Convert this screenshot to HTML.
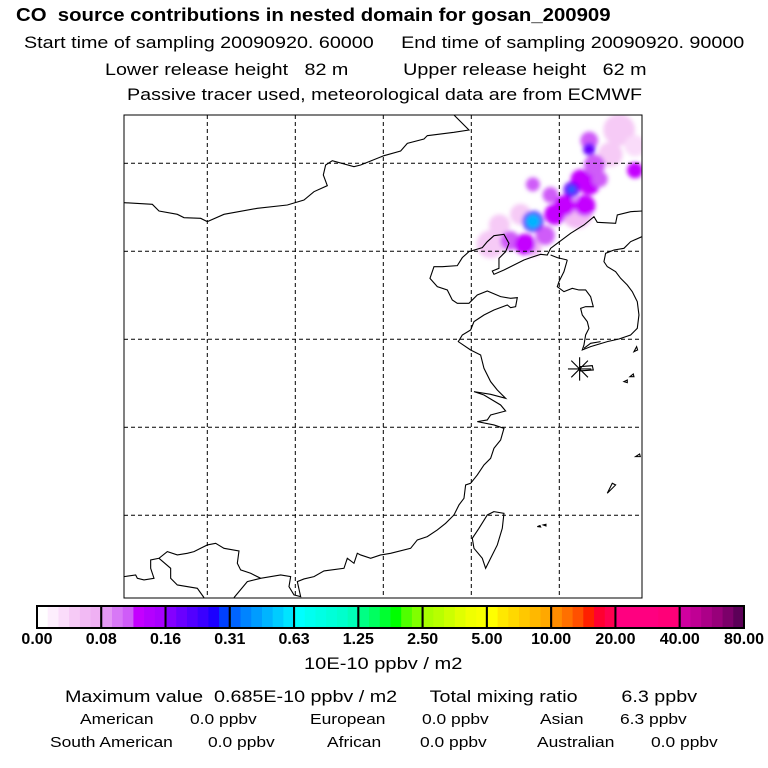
<!DOCTYPE html>
<html><head><meta charset="utf-8"><style>
body{margin:0;background:#fff;}
#root{position:relative;width:768px;height:768px;overflow:hidden;font-family:"Liberation Sans",sans-serif;color:#000;}
.t{position:absolute;white-space:nowrap;transform-origin:0 0;transform:scaleX(1.16);}
</style></head><body>
<div id="root">
<div class="t" style="left:16px;top:5px;font-size:18px;font-weight:bold;transform:scaleX(1.13);">CO&nbsp; source contributions in nested domain for gosan_200909</div>
<div class="t" style="left:24px;top:33px;font-size:17px;">Start time of sampling 20090920. 60000&nbsp;&nbsp;&nbsp;&nbsp; End time of sampling 20090920. 90000</div>
<div class="t" style="left:105px;top:60px;font-size:17px;">Lower release height&nbsp;&nbsp; 82 m&nbsp;&nbsp;&nbsp;&nbsp;&nbsp;&nbsp;&nbsp;&nbsp;&nbsp; Upper release height&nbsp;&nbsp; 62 m</div>
<div class="t" style="left:127px;top:85px;font-size:17px;">Passive tracer used, meteorological data are from ECMWF</div>
<svg id="svg" width="768" height="768" style="position:absolute;left:0;top:0">
<defs><filter id="bl" x="-50%" y="-50%" width="200%" height="200%"><feGaussianBlur stdDeviation="2"/></filter>
<clipPath id="mc" clipPathUnits="userSpaceOnUse"><rect x="124" y="115" width="518" height="483"/></clipPath></defs>
<g clip-path="url(#mc)"><g id="plume" filter="url(#bl)"></g></g>
<g id="grid"></g>
<g clip-path="url(#mc)">
<g transform="translate(124,115) scale(0.3333)" fill="none" stroke="#000" stroke-width="3.3">
<path d="M0,263 L85,268 L105,288 L160,298 L180,308 L230,310 L250,320 L300,298 L400,280 L490,270 L540,255 L570,230 L610,212 L598,180 L605,150 L625,137 L690,155 L710,150 L780,122 L830,108 L850,85 L900,72 L910,62 L990,52 L1035,45 L990,0"/>
<path d="M1554,288 L1520,290 L1480,300 L1475,325 L1420,322 L1410,305 L1380,330 L1340,355 L1300,385 L1280,400 L1270,420 L1250,418 L1220,428 L1200,435 L1170,450 L1140,465 L1110,478 L1105,468 L1125,460 L1125,430 L1145,410 L1155,385 L1140,358 L1110,362 L1090,380 L1075,398 L1035,410 L1015,428 L1000,452 L955,455 L930,455 L918,490 L940,515 L970,525 L985,555 L1000,565 L1035,565 L1060,540 L1090,528 L1130,545 L1160,550 L1180,548 L1175,575 L1160,578 L1150,570 L1110,585 L1080,600 L1050,620 L1040,645 L1015,660 L1003,680 L1040,705 L1070,720 L1080,760 L1100,800 L1120,825 L1145,850 L1100,838 L1050,830 L1080,840 L1130,870 L1145,888 L1100,900 L1090,915 L1060,920 L1110,930 L1140,940 L1130,975 L1110,1000 L1100,1030 L1080,1050 L1060,1080 L1040,1105 L1025,1110 L1020,1150 L1005,1170 L990,1200 L965,1225 L940,1245 L910,1265 L880,1275 L860,1300 L800,1315 L770,1320 L740,1330 L710,1320 L700,1315 L690,1345 L670,1330 L660,1360 L600,1368 L570,1385 L540,1392 L520,1400 L530,1445 L510,1440 L495,1415 L500,1385 L470,1380 L410,1390 L380,1375 L350,1365 L340,1345 L345,1308 L300,1300 L275,1285 L250,1290 L230,1300 L210,1310 L190,1315 L160,1320 L130,1310 L105,1330 L80,1335 L80,1360 L90,1390 L60,1395 L40,1390 L35,1380 L0,1385"/>
<path d="M105,1330 L140,1360 L140,1390 L160,1410 L220,1420 L240,1448 M330,1448 L370,1400 L410,1390"/>
<path d="M1330,435 L1320,470 L1305,500 L1300,515 L1320,530 L1345,520 L1365,525 L1385,525 L1400,545 L1408,575 L1385,575 L1370,580 L1375,600 L1390,620 L1395,640 L1385,660 L1380,690 L1375,705 L1400,695 L1450,680 L1485,672 L1520,660 L1540,640 L1545,600 L1540,560 L1525,530 L1510,510 L1490,490 L1475,470 L1450,455 L1440,440 L1445,415 L1470,405 L1500,400 L1520,380 L1554,365 M1330,435 L1300,428 L1280,420"/>
<path d="M1110,1190 L1140,1195 L1135,1240 L1120,1290 L1100,1330 L1085,1360 L1075,1330 L1050,1300 L1045,1270 L1065,1240 L1090,1200 Z"/>
<path d="M1530,710 l8,-15 l3,10 z M1500,800 l10,-5 l0,8 z M1518,785 l10,-8 l2,8 z M1535,1025 l12,-8 l2,8 z M1450,1135 l15,-30 l10,5 z M1240,1235 l8,-3 l2,4 z M1258,1230 l8,-2 l0,5 z M1380,700 l20,-15 l30,-5"/>
<path d="M1332,762 L1402,762 M1367,727 L1367,797 M1342,737 L1392,787 M1342,787 L1392,737 M1367,755 L1405,752 L1408,765 L1367,768"/>
</g></g>
<rect x="124" y="115" width="518" height="483" fill="none" stroke="#000" stroke-width="1"/>
<g id="cbar"></g>
</svg>
<div class="t" style="left:304px;top:654px;font-size:17px;transform:scaleX(1.18);">10E-10 ppbv / m2</div>
<div class="t" style="left:65px;top:687px;font-size:17px;">Maximum value&nbsp; 0.685E-10 ppbv / m2&nbsp;&nbsp;&nbsp;&nbsp;&nbsp; Total mixing ratio&nbsp;&nbsp;&nbsp;&nbsp;&nbsp;&nbsp;&nbsp; 6.3 ppbv</div>
<div class="t" style="left:80px;top:711px;font-size:15px;">American</div>
<div class="t" style="left:190px;top:711px;font-size:15px;">0.0 ppbv</div>
<div class="t" style="left:310px;top:711px;font-size:15px;">European</div>
<div class="t" style="left:422px;top:711px;font-size:15px;">0.0 ppbv</div>
<div class="t" style="left:540px;top:711px;font-size:15px;">Asian</div>
<div class="t" style="left:620px;top:711px;font-size:15px;">6.3 ppbv</div>
<div class="t" style="left:50px;top:734px;font-size:15px;">South American</div>
<div class="t" style="left:208px;top:734px;font-size:15px;">0.0 ppbv</div>
<div class="t" style="left:327px;top:734px;font-size:15px;">African</div>
<div class="t" style="left:420px;top:734px;font-size:15px;">0.0 ppbv</div>
<div class="t" style="left:537px;top:734px;font-size:15px;">Australian</div>
<div class="t" style="left:651px;top:734px;font-size:15px;">0.0 ppbv</div>
</div>
<script>
const levelLabels=["0.00","0.08","0.16","0.31","0.63","1.25","2.50","5.00","10.00","20.00","40.00","80.00"];
const levelValues=[0,0.08,0.16,0.31,0.63,1.25,2.5,5,10,20,40,80];
const segColors=[
["#ffffff","#fdeefd","#fadcfa","#f6caf6","#f2baf4","#efb0f3"],
["#e498f4","#d878f6","#cf5cf8","#c400ff","#b400ff","#a800ff"],
["#8400ff","#6a00ff","#5200ff","#3a00ff","#1c00ff","#0040ff"],
["#0064ff","#0084ff","#009cff","#00b4ff","#00ccff","#00e4ff"],
["#00ffff","#00fff0","#00ffe4","#00ffd8","#00ffcc","#00ffb8"],
["#00ff84","#00ff60","#00ff30","#00ff00","#50ff00","#80ff00"],
["#a8ff00","#b8ff00","#ccff00","#e0ff00","#f0ff00","#f8ff00"],
["#ffff00","#ffe800","#ffd800","#ffc800","#ffb800","#ffa800"],
["#ff8c00","#ff7000","#ff5000","#ff2000","#ff0030","#ff0050"],
["#ff0080","#ff0080","#ff0080","#ff0080","#ff0078","#ff0078"],
["#d000a0","#c00094","#ac0088","#98007a","#7c006a","#5c0058"]];
// plume blobs: longitude, latitude, value (1e-10 ppbv/m2), radius (deg)
const plumeLon=[116.1,116.6,117.8,123.4,122.9,124.3,118.5,121.0,117.2,118.05,119.2,119.75,119.5,120.3,121.45,121.7,122.0,121.7,121.2,122.3,124.3,118.5,118.5,120.7,121.7,118.5,120.7];
const plumeLat=[40.4,41.5,42.1,46.9,45.5,46.0,40.2,42.2,40.6,40.4,40.9,42.1,43.2,42.6,42.6,43.8,44.9,46.3,44.1,44.1,44.6,43.8,41.7,43.5,45.8,41.7,43.5];
const plumeVal=[0.04,0.04,0.05,0.04,0.05,0.03,0.06,0.06,0.12,0.13,0.12,0.13,0.12,0.13,0.13,0.13,0.12,0.12,0.13,0.12,0.13,0.11,0.22,0.2,0.19,0.5,0.35];
const plumeRad=[0.8,0.6,0.6,0.9,0.7,0.6,0.5,0.9,0.55,0.6,0.55,0.6,0.45,0.6,0.6,0.6,0.6,0.5,0.55,0.45,0.45,0.4,0.6,0.45,0.35,0.42,0.2];
const NS="http://www.w3.org/2000/svg";
const xOfLon=lon=>207.3+(lon-100)*88/5;
const yOfLat=lat=>163.3-(lat-45)*88/5;
const rOfDeg=d=>d*88/5;
function colorOf(v){
  for(let i=0;i<levelValues.length-1;i++){
    if(v<levelValues[i+1]){const f=(v-levelValues[i])/(levelValues[i+1]-levelValues[i]);const c=segColors[i];return c[Math.min(c.length-1,Math.floor(f*c.length))];}
  }
  return segColors[segColors.length-1][5];
}
const plume=document.getElementById('plume');
for(let i=0;i<plumeLon.length;i++){
  const c=document.createElementNS(NS,'circle');
  c.setAttribute('cx',xOfLon(plumeLon[i]));c.setAttribute('cy',yOfLat(plumeLat[i]));
  c.setAttribute('r',rOfDeg(plumeRad[i]));c.setAttribute('fill',colorOf(plumeVal[i]));
  
  
  plume.appendChild(c);
}
const gridLons=[100,105,110,115,120];
const gridLats=[45,40,35,30,25];
const grid=document.getElementById('grid');
gridLons.forEach(l=>{const ln=document.createElementNS(NS,'line');const x=xOfLon(l);
ln.setAttribute('x1',x);ln.setAttribute('x2',x);ln.setAttribute('y1',115);ln.setAttribute('y2',598);
ln.setAttribute('stroke','#000');ln.setAttribute('stroke-dasharray','4,3');


grid.appendChild(ln);});
gridLats.forEach(l=>{const ln=document.createElementNS(NS,'line');const y=yOfLat(l);
ln.setAttribute('x1',124);ln.setAttribute('x2',642);ln.setAttribute('y1',y);ln.setAttribute('y2',y);
ln.setAttribute('stroke','#000');ln.setAttribute('stroke-dasharray','4,3');


grid.appendChild(ln);});
const cb=document.getElementById('cbar');
const cx0=37,cx1=744,cy=606,ch=22,sw=(cx1-cx0)/segColors.length;
segColors.forEach((cols,i)=>{
  cols.forEach((col,j)=>{const r=document.createElementNS(NS,'rect');
    r.setAttribute('x',cx0+i*sw+j*sw/cols.length);r.setAttribute('y',cy);
    r.setAttribute('width',sw/cols.length+0.6);r.setAttribute('height',ch);r.setAttribute('fill',col);
    
    
    cb.appendChild(r);});
  const b=document.createElementNS(NS,'rect');
  b.setAttribute('x',cx0+i*sw);b.setAttribute('y',cy);b.setAttribute('width',sw);b.setAttribute('height',ch);
  b.setAttribute('fill','none');b.setAttribute('stroke','#000');b.setAttribute('stroke-width','2');
  
  
  cb.appendChild(b);
});
levelLabels.forEach((t,i)=>{const tx=document.createElementNS(NS,'text');
  tx.setAttribute('x',cx0+i*sw);tx.setAttribute('y',644);tx.setAttribute('text-anchor','middle');
  tx.setAttribute('font-family','Liberation Sans, sans-serif');tx.setAttribute('font-size','16');tx.setAttribute('font-weight','bold');
  
  
  tx.textContent=t;cb.appendChild(tx);});
</script>
</body></html>
